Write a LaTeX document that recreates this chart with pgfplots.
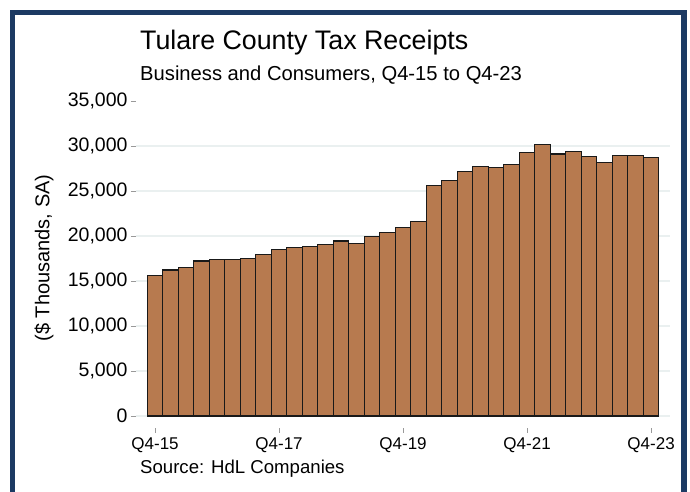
\documentclass[border=0pt]{standalone}
\usepackage{fontspec}
\setmainfont{Liberation Sans}
\usepackage{pgfplots}
\pgfplotsset{compat=1.18}

\definecolor{barfill}{HTML}{B77A4F}
\definecolor{frameblue}{HTML}{1C3A63}
\definecolor{gridc}{HTML}{EAF0F0}

% quarterly receipts, Q4-15 .. Q4-23, $ thousands
\pgfplotstableread{
q val
0 15590
1 16220
2 16520
3 17220
4 17370
5 17380
6 17520
7 17960
8 18520
9 18740
10 18810
11 19070
12 19440
13 19190
14 19930
15 20370
16 20960
17 21590
18 25590
19 26190
20 27150
21 27700
22 27630
23 27960
24 29260
25 30150
26 29110
27 29370
28 28810
29 28150
30 28960
31 28960
32 28700
}\receipts

\begin{document}
\begin{tikzpicture}
\useasboundingbox (0,0) rectangle (690pt,491pt);
\fill[white] (0,0) rectangle (690pt,491pt);
\draw[frameblue, line width=5.5pt] (12.5pt,-10pt) -- (12.5pt,478.5pt) -- (684pt,478.5pt) -- (684pt,-10pt);

\begin{axis}[
    at={(136pt,75pt)}, anchor=south west,
    scale only axis,
    width=534pt, height=315pt,
    xmin=-1.23, xmax=33.22,
    ymin=0, ymax=35000,
    clip=false,
    axis line style={draw=none},
    ytick={0,5000,...,35000},
    xtick={0,8,16,24,32},
    xticklabels={Q4-15,Q4-17,Q4-19,Q4-21,Q4-23},
    xtick pos=bottom, ytick pos=left,
    scaled y ticks=false,
    tick align=outside,
    major tick length=5pt,
    tick style={gray!80, line width=0.8pt},
    xtick style={draw=none},
    xticklabel style={yshift=-13.5pt, font=\fontsize{17}{20}\selectfont},
    yticklabel style={font=\fontsize{19.5}{22}\selectfont,
        /pgf/number format/.cd, fixed, 1000 sep={,}, assume math mode=true},
    extra y ticks={0,5000,...,30000},
    extra y tick labels={},
    extra y tick style={grid=major, major tick length=0pt},
    major grid style={gridc, line width=1.2pt},
]
\addplot[ybar, bar width=1, fill=barfill, draw=black!90, line width=1.1pt]
    table[x=q, y=val] {\receipts};
% detached x tick marks, as in the source graph
\pgfplotsinvokeforeach{0,8,16,24,32}{
    \draw[gray!80, line width=0.8pt] ([yshift=-12pt]axis cs:#1,0) -- ([yshift=-17pt]axis cs:#1,0);
}
\end{axis}

\node[anchor=base west, inner sep=0pt, font=\fontsize{26.8}{30}\selectfont] at (140pt,441pt) {Tulare County Tax Receipts};
\node[anchor=base west, inner sep=0pt, font=\fontsize{20.2}{24}\selectfont] at (140pt,410.5pt) {Business and Consumers, Q4-15 to Q4-23};
\node[anchor=base west, inner sep=0pt, font=\fontsize{18.6}{22}\selectfont] at (140pt,17.5pt) {Source: HdL Companies};
\node[rotate=90, font=\fontsize{20}{24}\selectfont] at (44pt,233pt) {(\$ Thousands, SA)};
\end{tikzpicture}
\end{document}
